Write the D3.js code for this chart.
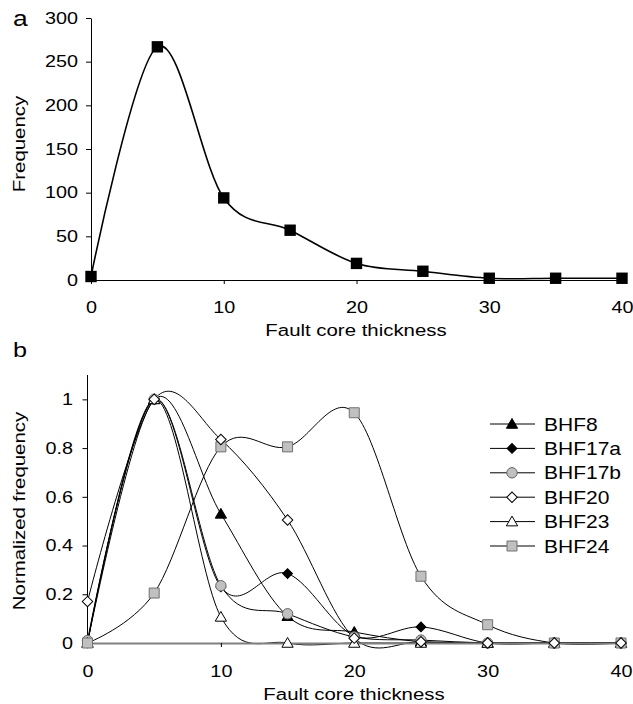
<!DOCTYPE html>
<html><head><meta charset="utf-8">
<script src="https://cdn.jsdelivr.net/npm/d3@7"></script>
<style>body{margin:0;background:#fff}svg{display:block}text{font-family:"Liberation Sans",Arial,sans-serif;fill:#000}</style>
</head><body>
<svg id="c" width="633" height="704"></svg>
<script>
// ---- data ----
const thickness = [0, 5, 10, 15, 20, 25, 30, 35, 40];
const frequency = [4, 267, 94, 57, 19, 10, 2, 2, 2];
const seriesNames = ["BHF8", "BHF17a", "BHF17b", "BHF20", "BHF23", "BHF24"];
const BHF8   = [0, 1, 0.53, 0.11, 0.045, 0.005, 0, 0, 0];
const BHF17a = [0, 1, 0.23, 0.285, 0.03, 0.066, 0, 0, 0];
const BHF17b = [0.01, 1, 0.235, 0.12, 0.025, 0.012, 0, 0, 0];
const BHF20  = [0.17, 1, 0.835, 0.505, 0.02, 0.005, 0, 0, 0];
const BHF23  = [0, 1, 0.107, 0, 0, 0, 0, 0, 0];
const BHF24  = [0, 0.205, 0.805, 0.805, 0.945, 0.274, 0.075, 0, 0];
const xTicks = [0, 10, 20, 30, 40];
const yTicksA = [0, 50, 100, 150, 200, 250, 300];
const yTicksB = [0, 0.2, 0.4, 0.6, 0.8, 1];
const yTickLabelsB = ["0", "0.2", "0.4", "0.6", "0.8", "1"];

const SX = 1.2; // horizontal text stretch
const svg = d3.select("#c");

function label(x, y, str, size, anchor, rot) {
  svg.append("text")
    .attr("transform", `translate(${x},${y})` + (rot ? ` rotate(${rot})` : "") + ` scale(${SX},1)`)
    .attr("text-anchor", anchor || "start")
    .style("font-size", size + "px")
    .text(str);
}

function styleAxis(g, color) {
  g.select(".domain").attr("stroke", color || "#000").attr("stroke-width", 1);
  g.selectAll(".tick line").attr("stroke", "#000");
  g.selectAll(".tick text").style("font-size", "16.5px")
    .attr("fill", "#000").attr("font-family", null);
}

// ================= Panel a =================
const xa = d3.scaleLinear().domain([0, 40]).range([91, 622]);
const ya = d3.scaleLinear().domain([0, 300]).range([280, 18]);

const gxa = svg.append("g").attr("transform", "translate(0,280)")
  .call(d3.axisBottom(xa).tickValues(xTicks).tickSize(4).tickPadding(17).tickSizeOuter(0));
styleAxis(gxa);
gxa.selectAll(".tick text").attr("transform", `scale(${SX},1)`);

const gya = svg.append("g").attr("transform", "translate(91,0)")
  .call(d3.axisLeft(ya).tickValues(yTicksA).tickSize(5).tickPadding(8).tickSizeOuter(0));
styleAxis(gya);
gya.selectAll(".tick text").attr("x", -13 / SX).attr("transform", `scale(${SX},1)`);

const lineA = d3.line().x((d, i) => xa(thickness[i])).y(d => ya(d)).curve(d3.curveCardinal.tension(0));
svg.append("path").datum(frequency).attr("d", lineA)
  .attr("fill", "none").attr("stroke", "#000").attr("stroke-width", 1.6);
svg.append("g").selectAll("path").data(frequency).join("path")
  .attr("transform", (d, i) => `translate(${xa(thickness[i])},${ya(d)})`)
  .attr("d", d3.symbol(d3.symbolSquare, 130)())
  .attr("fill", "#000");

label(13, 26, "a", 22, "start");
label(25, 144, "Frequency", 17, "middle", -90);
label(356, 336, "Fault core thickness", 17, "middle");

// ================= Panel b =================
const xb = d3.scaleLinear().domain([0, 40]).range([87.5, 621]);
const yb = d3.scaleLinear().domain([0, 1.1]).range([643, 375]);

const series = [BHF8, BHF17a, BHF17b, BHF20, BHF23, BHF24];
const styles = [
  { sym: d3.symbolTriangle, size: 55, fill: "#000", stroke: "#000", rot: 0, dy: 1 },
  { sym: d3.symbolSquare, size: 48, fill: "#000", stroke: "#000", rot: 45, dy: 0 },
  { sym: d3.symbolCircle, size: 85, fill: "#c0c0c0", stroke: "#666", rot: 0, dy: 0 },
  { sym: d3.symbolSquare, size: 55, fill: "#fff", stroke: "#000", rot: 45, dy: 0 },
  { sym: d3.symbolTriangle, size: 55, fill: "#fff", stroke: "#000", rot: 0, dy: 1 },
  { sym: d3.symbolSquare, size: 100, fill: "#c0c0c0", stroke: "#707070", rot: 0, dy: 0 }
];

const lineB = d3.line().x((d, i) => xb(thickness[i])).y(d => yb(d)).curve(d3.curveCardinal.tension(0));
series.forEach((s, k) => {
  svg.append("path").datum(s).attr("d", lineB)
    .attr("fill", "none").attr("stroke", "#000").attr("stroke-width", 1);
});

const gxb = svg.append("g").attr("transform", "translate(0,643)")
  .call(d3.axisBottom(xb).tickValues(xTicks).tickSize(4).tickPadding(18).tickSizeOuter(0));
styleAxis(gxb, "#808080");
gxb.select(".domain").attr("stroke-width", 2);
gxb.selectAll(".tick text").attr("transform", `scale(${SX},1)`);

const gyb = svg.append("g").attr("transform", "translate(87.5,0)")
  .call(d3.axisLeft(yb).tickValues(yTicksB).tickFormat((d, i) => yTickLabelsB[i]).tickSize(5).tickSizeOuter(0));
styleAxis(gyb);
gyb.selectAll(".tick text").attr("x", -14.5 / SX).attr("transform", `scale(${SX},1)`);
gyb.select(".domain").attr("d", `M0,${yb(1.1)}V${yb(0)}`);

const markerOrder = [0, 1, 2, 4, 5, 3];
markerOrder.forEach(k => {
  const st = styles[k];
  svg.append("g").selectAll("path").data(series[k]).join("path")
    .attr("transform", (d, i) => `translate(${xb(thickness[i])},${yb(d) + st.dy}) rotate(${st.rot})`)
    .attr("d", d3.symbol(st.sym, st.size)())
    .attr("fill", st.fill).attr("stroke", st.stroke).attr("stroke-width", 1);
});

// legend
const lg = svg.append("g");
seriesNames.forEach((name, k) => {
  const y = 424 + k * 24.4;
  const st = styles[k];
  lg.append("line").attr("x1", 490).attr("x2", 535).attr("y1", y).attr("y2", y)
    .attr("stroke", "#000").attr("stroke-width", 1);
  lg.append("path").attr("transform", `translate(512,${y + st.dy}) rotate(${st.rot})`)
    .attr("d", d3.symbol(st.sym, st.size)())
    .attr("fill", st.fill).attr("stroke", st.stroke).attr("stroke-width", 1);
  label(544, y + 6.5, name, 17.5, "start");
});

label(13, 357, "b", 21, "start");
label(25, 511, "Normalized frequency", 17, "middle", -90);
label(354, 700, "Fault core thickness", 17, "middle");
</script>
</body></html>
